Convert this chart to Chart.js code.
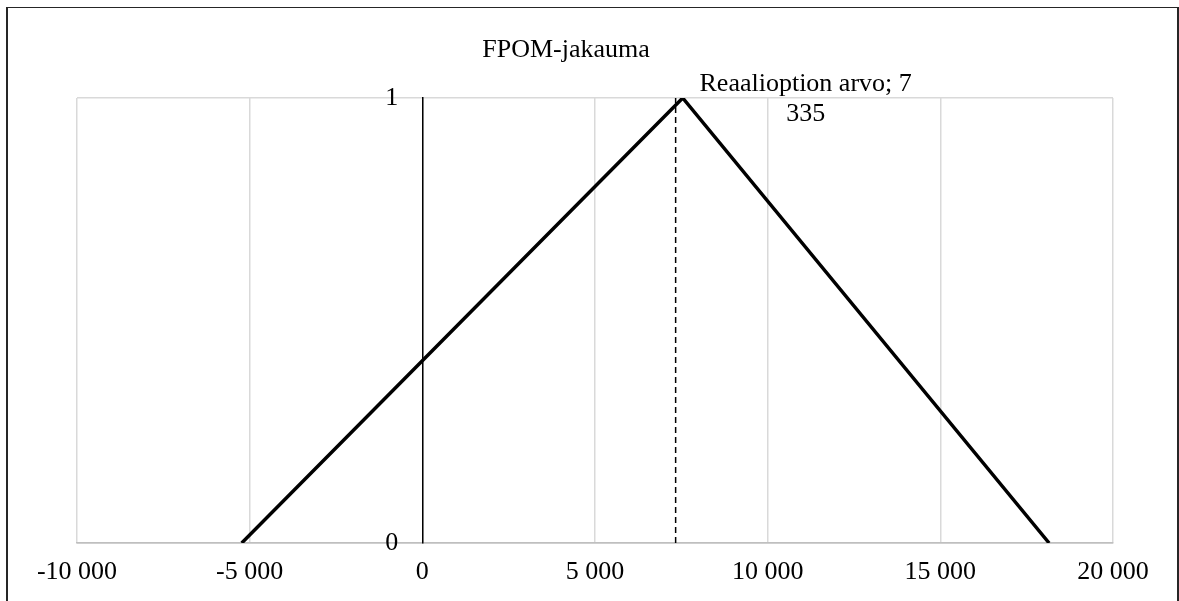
<!DOCTYPE html>
<html>
<head>
<meta charset="utf-8">
<title>FPOM-jakauma</title>
<script src="https://cdn.jsdelivr.net/npm/chart.js@4/dist/chart.umd.min.js"></script>
<style>
  html, body { margin: 0; padding: 0; background: #fff; overflow: hidden; }
  #frame {
    position: absolute; left: 6px; top: 7px; width: 1173px; height: 640px;
    box-sizing: border-box; border: 2px solid #262626; border-top-width: 1.5px;
  }
  #wrap { position: absolute; left: 0; top: 0; width: 1179px; height: 601px; }
</style>
</head>
<body>
<div id="frame"></div>
<div id="wrap"><canvas id="chart"></canvas></div>
<script>
// FPOM distribution: triangle corners (x = value, y = membership)
const fpomX = [-5230, 7540, 18150];
const fpomY = [0, 1, 0];

// real option value marker
const optionLabel = 'Reaalioption arvo';
const optionValue = 7335;

// axis ticks
const xTicks = [-10000, -5000, 0, 5000, 10000, 15000, 20000];
const yTicks = [0, 1];

const chartTitle = 'FPOM-jakauma';
const FONT = 'Liberation Serif';

function fmt(v) {
    const s = String(Math.abs(Math.round(v))).replace(/\B(?=(\d{3})+(?!\d))/g, ' ');
    return (v < 0 ? '-' : '') + s;
}

// word wrap inside a box width, like the spreadsheet data label does
function wrapText(ctx, text, maxWidth) {
    const words = text.split(' ');
    const lines = [];
    let line = '';
    for (const w of words) {
        const test = line ? line + ' ' + w : w;
        if (line && ctx.measureText(test).width > maxWidth) {
            lines.push(line);
            line = w;
        } else {
            line = test;
        }
    }
    if (line) lines.push(line);
    return lines;
}

// title sits a bit left of centre, and the y labels hang left of the x = 0 axis,
// so both are drawn here instead of by the built-in title / tick renderer
const textPlugin = {
    id: 'texts',
    afterDraw(chart) {
        const ctx = chart.ctx;
        const xs = chart.scales.x;
        const ys = chart.scales.y;
        ctx.save();
        ctx.font = '26px "' + FONT + '"';
        ctx.fillStyle = '#000';
        ctx.textBaseline = 'middle';

        ctx.textAlign = 'center';
        ctx.fillText(chartTitle, 566, 50);

        ctx.textAlign = 'right';
        const x0 = xs.getPixelForValue(0);
        yTicks.forEach(v => ctx.fillText(fmt(v), x0 - 24, ys.getPixelForValue(v)));

        ctx.textAlign = 'center';
        const px = xs.getPixelForValue(optionValue);
        const py = ys.getPixelForValue(1);
        const lines = wrapText(ctx, optionLabel + '; ' + fmt(optionValue), 235);
        lines.forEach((l, i) => ctx.fillText(l, px + 130, py - 14 + i * 30));
        ctx.restore();
    }
};

const fpomData = fpomX.map((x, i) => ({ x: x, y: fpomY[i] }));
const optionData = [{ x: optionValue, y: 0 }, { x: optionValue, y: 1 }];

const chart = new Chart(document.getElementById('chart'), {
    type: 'line',
    data: {
        datasets: [{
            label: 'FPOM',
            data: fpomData,
            borderColor: '#000',
            borderWidth: 3.5,
            pointRadius: 0,
            tension: 0,
            fill: false
        }, {
            label: optionLabel,
            data: optionData,
            borderColor: '#000',
            borderWidth: 1.5,
            borderDash: [6, 4],
            pointRadius: 0,
            fill: false
        }]
    },
    options: {
        responsive: true,
        maintainAspectRatio: false,
        animation: false,
        layout: { padding: { left: 77, right: 66, top: 98, bottom: 0 } },
        plugins: {
            legend: { display: false },
            tooltip: { enabled: false },
            title: { display: false }
        },
        scales: {
            x: {
                type: 'linear',
                min: -10000,
                max: 20000,
                afterBuildTicks(axis) { axis.ticks = xTicks.map(v => ({ value: v })); },
                grid: { color: '#d9d9d9', lineWidth: 1.5, drawTicks: false },
                border: { color: '#bfbfbf', width: 1.5 },
                ticks: {
                    color: '#000',
                    font: { family: FONT, size: 26, lineHeight: 1 },
                    padding: 16,
                    maxRotation: 0,
                    callback: v => fmt(v)
                }
            },
            y: {
                type: 'linear',
                position: { x: 0 },
                min: 0,
                max: 1,
                afterBuildTicks(axis) { axis.ticks = yTicks.map(v => ({ value: v })); },
                grid: {
                    color: c => (c.tick && c.tick.value === 0 ? '#bfbfbf' : '#d9d9d9'),
                    lineWidth: 1.5,
                    drawTicks: false
                },
                border: { color: '#000', width: 1.5 },
                ticks: { display: false }
            }
        }
    },
    plugins: [textPlugin]
});
</script>
</body>
</html>
